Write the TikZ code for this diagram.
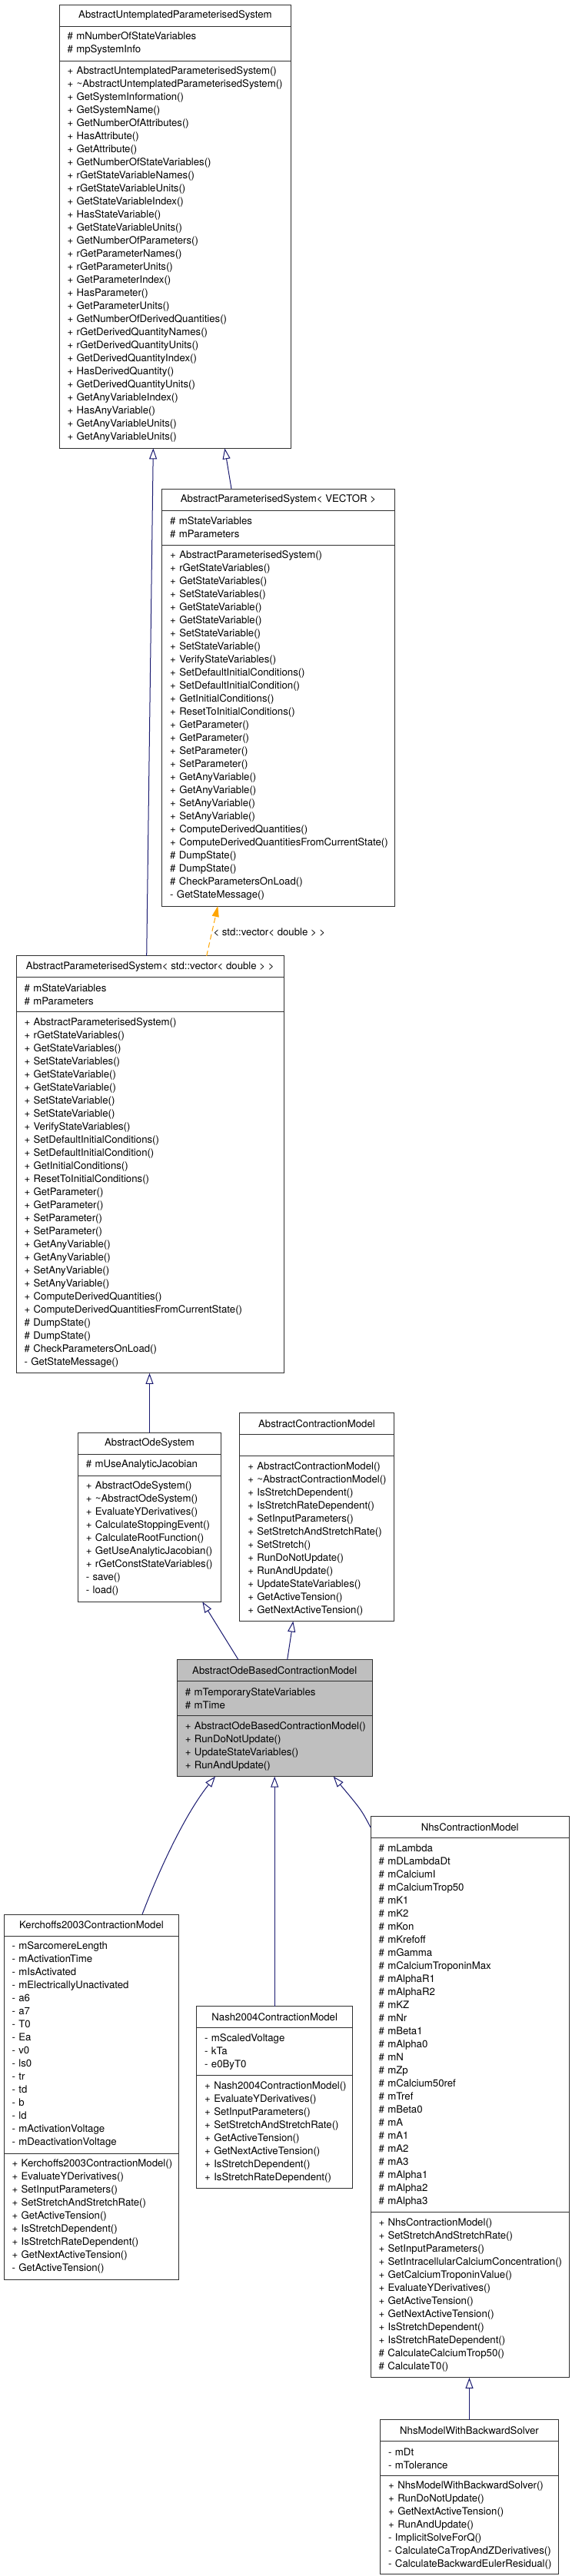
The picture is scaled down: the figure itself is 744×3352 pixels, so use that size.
\documentclass[tikz,border=0pt]{standalone}
\usepackage{fontspec}
\setmainfont{TeX Gyre Heros}
\usepackage{tikz}
\usetikzlibrary{
    arrows.meta,
    positioning
}
\definecolor{edgeblue}{HTML}{191970}
\definecolor{tmplorange}{HTML}{FFA500}
\definecolor{boxborder}{HTML}{303030}
\definecolor{focusgray}{HTML}{BFBFBF}
\newcommand{\umlfont}{\fontsize{13.2}{17}\selectfont\hyphenpenalty=10000\exhyphenpenalty=10000\hbadness=10000\hfuzz=40pt}
\tikzset{
    class box/.style={
        draw=boxborder, fill=white, line width=1pt,
        outer sep=0pt, inner xsep=10.5pt, inner ysep=0pt,
        font=\umlfont
    },
    class name/.style={
        class box, anchor=north, minimum height=28pt, align=center
    },
    class part/.style={
        class box, minimum height=#1*17pt+11pt, align=left
    },
    inherit edge/.style={
        -{Triangle[open, length=14pt, width=10pt]}, line width=1pt, color=edgeblue
    },
    template edge/.style={
        -{Triangle[length=14pt, width=9pt]}, line width=1pt, color=tmplorange,
        dash pattern=on 7pt off 4pt
    },
}

\begin{document}
\begin{tikzpicture}[x=1pt, y=-1pt]
    \useasboundingbox[fill=white] (0,0) rectangle (744,3352);

    % AbstractUntemplatedParameterisedSystem
    \node[class name, minimum width=301.7pt] (untempl) at (227.9,6.4) {AbstractUntemplatedParameterisedSystem};
    \node[class part=2, text width=280.7pt, below=0pt of untempl] (untempl-attr) {\#~mNumberOfStateVariables\\\#~mpSystemInfo};
    \node[class part=29, text width=280.7pt, below=0pt of untempl-attr] (untempl-ops) {+~AbstractUntemplatedParameterisedSystem()\\
        +~\textasciitilde AbstractUntemplatedParameterisedSystem()\\
        +~GetSystemInformation()\\
        +~GetSystemName()\\
        +~GetNumberOfAttributes()\\
        +~HasAttribute()\\
        +~GetAttribute()\\
        +~GetNumberOfStateVariables()\\
        +~rGetStateVariableNames()\\
        +~rGetStateVariableUnits()\\
        +~GetStateVariableIndex()\\
        +~HasStateVariable()\\
        +~GetStateVariableUnits()\\
        +~GetNumberOfParameters()\\
        +~rGetParameterNames()\\
        +~rGetParameterUnits()\\
        +~GetParameterIndex()\\
        +~HasParameter()\\
        +~GetParameterUnits()\\
        +~GetNumberOfDerivedQuantities()\\
        +~rGetDerivedQuantityNames()\\
        +~rGetDerivedQuantityUnits()\\
        +~GetDerivedQuantityIndex()\\
        +~HasDerivedQuantity()\\
        +~GetDerivedQuantityUnits()\\
        +~GetAnyVariableIndex()\\
        +~HasAnyVariable()\\
        +~GetAnyVariableUnits()\\
        +~GetAnyVariableUnits()};

    % AbstractParameterisedSystem< VECTOR >
    \node[class name, minimum width=302.6pt] (vector) at (362,636) {AbstractParameterisedSystem< VECTOR >};
    \node[class part=2, text width=281.6pt, below=0pt of vector] (vector-attr) {\#~mStateVariables\\\#~mParameters};
    \node[class part=27, text width=281.6pt, below=0pt of vector-attr] (vector-ops) {+~AbstractParameterisedSystem()\\
        +~rGetStateVariables()\\
        +~GetStateVariables()\\
        +~SetStateVariables()\\
        +~GetStateVariable()\\
        +~GetStateVariable()\\
        +~SetStateVariable()\\
        +~SetStateVariable()\\
        +~VerifyStateVariables()\\
        +~SetDefaultInitialConditions()\\
        +~SetDefaultInitialCondition()\\
        +~GetInitialConditions()\\
        +~ResetToInitialConditions()\\
        +~GetParameter()\\
        +~GetParameter()\\
        +~SetParameter()\\
        +~SetParameter()\\
        +~GetAnyVariable()\\
        +~GetAnyVariable()\\
        +~SetAnyVariable()\\
        +~SetAnyVariable()\\
        +~ComputeDerivedQuantities()\\
        +~ComputeDerivedQuantitiesFromCurrentState()\\
        \#~DumpState()\\
        \#~DumpState()\\
        \#~CheckParametersOnLoad()\\
        -~GetStateMessage()};

    % AbstractParameterisedSystem< std::vector< double > >
    \node[class name, minimum width=348.3pt] (stdvec) at (195.2,1243.9) {AbstractParameterisedSystem< std::vector< double > >};
    \node[class part=2, text width=327.3pt, below=0pt of stdvec] (stdvec-attr) {\#~mStateVariables\\\#~mParameters};
    \node[class part=27, text width=327.3pt, below=0pt of stdvec-attr] (stdvec-ops) {+~AbstractParameterisedSystem()\\
        +~rGetStateVariables()\\
        +~GetStateVariables()\\
        +~SetStateVariables()\\
        +~GetStateVariable()\\
        +~GetStateVariable()\\
        +~SetStateVariable()\\
        +~SetStateVariable()\\
        +~VerifyStateVariables()\\
        +~SetDefaultInitialConditions()\\
        +~SetDefaultInitialCondition()\\
        +~GetInitialConditions()\\
        +~ResetToInitialConditions()\\
        +~GetParameter()\\
        +~GetParameter()\\
        +~SetParameter()\\
        +~SetParameter()\\
        +~GetAnyVariable()\\
        +~GetAnyVariable()\\
        +~SetAnyVariable()\\
        +~SetAnyVariable()\\
        +~ComputeDerivedQuantities()\\
        +~ComputeDerivedQuantitiesFromCurrentState()\\
        \#~DumpState()\\
        \#~DumpState()\\
        \#~CheckParametersOnLoad()\\
        -~GetStateMessage()};

    % AbstractOdeSystem
    \node[class name, minimum width=186.4pt] (odesys) at (194.5,1864.3) {AbstractOdeSystem};
    \node[class part=1, text width=165.4pt, below=0pt of odesys] (odesys-attr) {\#~mUseAnalyticJacobian};
    \node[class part=9, text width=165.4pt, below=0pt of odesys-attr] (odesys-ops) {+~AbstractOdeSystem()\\
        +~\textasciitilde AbstractOdeSystem()\\
        +~EvaluateYDerivatives()\\
        +~CalculateStoppingEvent()\\
        +~CalculateRootFunction()\\
        +~GetUseAnalyticJacobian()\\
        +~rGetConstStateVariables()\\
        -~save()\\
        -~load()};

    % AbstractContractionModel
    \node[class name, minimum width=200.3pt] (contract) at (411.9,1838.6) {AbstractContractionModel};
    \node[class part=1, text width=179.3pt, below=0pt of contract] (contract-attr) {};
    \node[class part=12, text width=179.3pt, below=0pt of contract-attr] (contract-ops) {+~AbstractContractionModel()\\
        +~\textasciitilde AbstractContractionModel()\\
        +~IsStretchDependent()\\
        +~IsStretchRateDependent()\\
        +~SetInputParameters()\\
        +~SetStretchAndStretchRate()\\
        +~SetStretch()\\
        +~RunDoNotUpdate()\\
        +~RunAndUpdate()\\
        +~UpdateStateVariables()\\
        +~GetActiveTension()\\
        +~GetNextActiveTension()};

    % AbstractOdeBasedContractionModel (this class)
    \node[class name, minimum width=253.7pt, fill=focusgray] (odebased) at (357.2,2159.6) {AbstractOdeBasedContractionModel};
    \node[class part=2, text width=232.7pt, fill=focusgray, below=0pt of odebased] (odebased-attr) {\#~mTemporaryStateVariables\\\#~mTime};
    \node[class part=4, text width=232.7pt, fill=focusgray, below=0pt of odebased-attr] (odebased-ops) {+~AbstractOdeBasedContractionModel()\\
        +~RunDoNotUpdate()\\
        +~UpdateStateVariables()\\
        +~RunAndUpdate()};

    % Kerchoffs2003ContractionModel
    \node[class name, minimum width=227.7pt] (kerch) at (118.9,2491) {Kerchoffs2003ContractionModel};
    \node[class part=16, text width=206.7pt, below=0pt of kerch] (kerch-attr) {-~mSarcomereLength\\
        -~mActivationTime\\
        -~mIsActivated\\
        -~mElectricallyUnactivated\\
        -~a6\\
        -~a7\\
        -~T0\\
        -~Ea\\
        -~v0\\
        -~ls0\\
        -~tr\\
        -~td\\
        -~b\\
        -~ld\\
        -~mActivationVoltage\\
        -~mDeactivationVoltage};
    \node[class part=9, text width=206.7pt, below=0pt of kerch-attr] (kerch-ops) {+~Kerchoffs2003ContractionModel()\\
        +~EvaluateYDerivatives()\\
        +~SetInputParameters()\\
        +~SetStretchAndStretchRate()\\
        +~GetActiveTension()\\
        +~IsStretchDependent()\\
        +~IsStretchRateDependent()\\
        +~GetNextActiveTension()\\
        -~GetActiveTension()};

    % Nash2004ContractionModel
    \node[class name, minimum width=203pt] (nash) at (357.2,2610.7) {Nash2004ContractionModel};
    \node[class part=3, text width=182pt, below=0pt of nash] (nash-attr) {-~mScaledVoltage\\-~kTa\\-~e0ByT0};
    \node[class part=8, text width=182pt, below=0pt of nash-attr] (nash-ops) {+~Nash2004ContractionModel()\\
        +~EvaluateYDerivatives()\\
        +~SetInputParameters()\\
        +~SetStretchAndStretchRate()\\
        +~GetActiveTension()\\
        +~GetNextActiveTension()\\
        +~IsStretchDependent()\\
        +~IsStretchRateDependent()};

    % NhsContractionModel
    \node[class name, minimum width=258.3pt] (nhs) at (611.2,2363.9) {NhsContractionModel};
    \node[class part=28, text width=237.3pt, below=0pt of nhs] (nhs-attr) {\#~mLambda\\
        \#~mDLambdaDt\\
        \#~mCalciumI\\
        \#~mCalciumTrop50\\
        \#~mK1\\
        \#~mK2\\
        \#~mKon\\
        \#~mKrefoff\\
        \#~mGamma\\
        \#~mCalciumTroponinMax\\
        \#~mAlphaR1\\
        \#~mAlphaR2\\
        \#~mKZ\\
        \#~mNr\\
        \#~mBeta1\\
        \#~mAlpha0\\
        \#~mN\\
        \#~mZp\\
        \#~mCalcium50ref\\
        \#~mTref\\
        \#~mBeta0\\
        \#~mA\\
        \#~mA1\\
        \#~mA2\\
        \#~mA3\\
        \#~mAlpha1\\
        \#~mAlpha2\\
        \#~mAlpha3};
    \node[class part=12, text width=237.3pt, below=0pt of nhs-attr] (nhs-ops) {+~NhsContractionModel()\\
        +~SetStretchAndStretchRate()\\
        +~SetInputParameters()\\
        +~SetIntracellularCalciumConcentration()\\
        +~GetCalciumTroponinValue()\\
        +~EvaluateYDerivatives()\\
        +~GetActiveTension()\\
        +~GetNextActiveTension()\\
        +~IsStretchDependent()\\
        +~IsStretchRateDependent()\\
        \#~CalculateCalciumTrop50()\\
        \#~CalculateT0()};

    % NhsModelWithBackwardSolver
    \node[class name, minimum width=231.6pt] (nhsbw) at (610.5,3148.9) {NhsModelWithBackwardSolver};
    \node[class part=2, text width=210.6pt, below=0pt of nhsbw] (nhsbw-attr) {-~mDt\\-~mTolerance};
    \node[class part=7, text width=210.6pt, minimum height=128pt, below=0pt of nhsbw-attr] (nhsbw-ops) {+~NhsModelWithBackwardSolver()\\
        +~RunDoNotUpdate()\\
        +~GetNextActiveTension()\\
        +~RunAndUpdate()\\
        -~ImplicitSolveForQ()\\
        -~CalculateCaTropAndZDerivatives()\\
        -~CalculateBackwardEulerResidual()};

    % Inheritance
    \draw[inherit edge] ([xshift=-61pt]vector.north) -- ([xshift=64.4pt]untempl-ops.south);
    \draw[inherit edge] ([xshift=-4.5pt]stdvec.north) -- ([xshift=-28.6pt]untempl-ops.south);
    \draw[template edge] ([xshift=73.5pt]stdvec.north) -- node[anchor=west, pos=0.47, inner sep=1.5pt, font=\umlfont, text=black] {< std::vector< double > >} ([xshift=-78.7pt]vector-ops.south);
    \draw[inherit edge] (odesys.north) -- (odesys.north |- stdvec-ops.south);
    \draw[inherit edge] ([xshift=-47.2pt]odebased.north) -- ([xshift=68.8pt]odesys-ops.south);
    \draw[inherit edge] ([xshift=16.5pt]odebased.north) -- ([xshift=-30.6pt]contract-ops.south);
    \draw[inherit edge] ([xshift=66.1pt]kerch.north) .. controls (212,2420) and (245,2355) .. ([xshift=-77.2pt]odebased-ops.south);
    \draw[inherit edge] (nash.north) -- (nash.north |- odebased-ops.south);
    \draw[inherit edge] (nhs.west) .. controls (470,2355) .. ([xshift=76.5pt]odebased-ops.south);
    \draw[inherit edge] (nhsbw.north) -- (nhsbw.north |- nhs-ops.south);

\end{tikzpicture}
\end{document}
